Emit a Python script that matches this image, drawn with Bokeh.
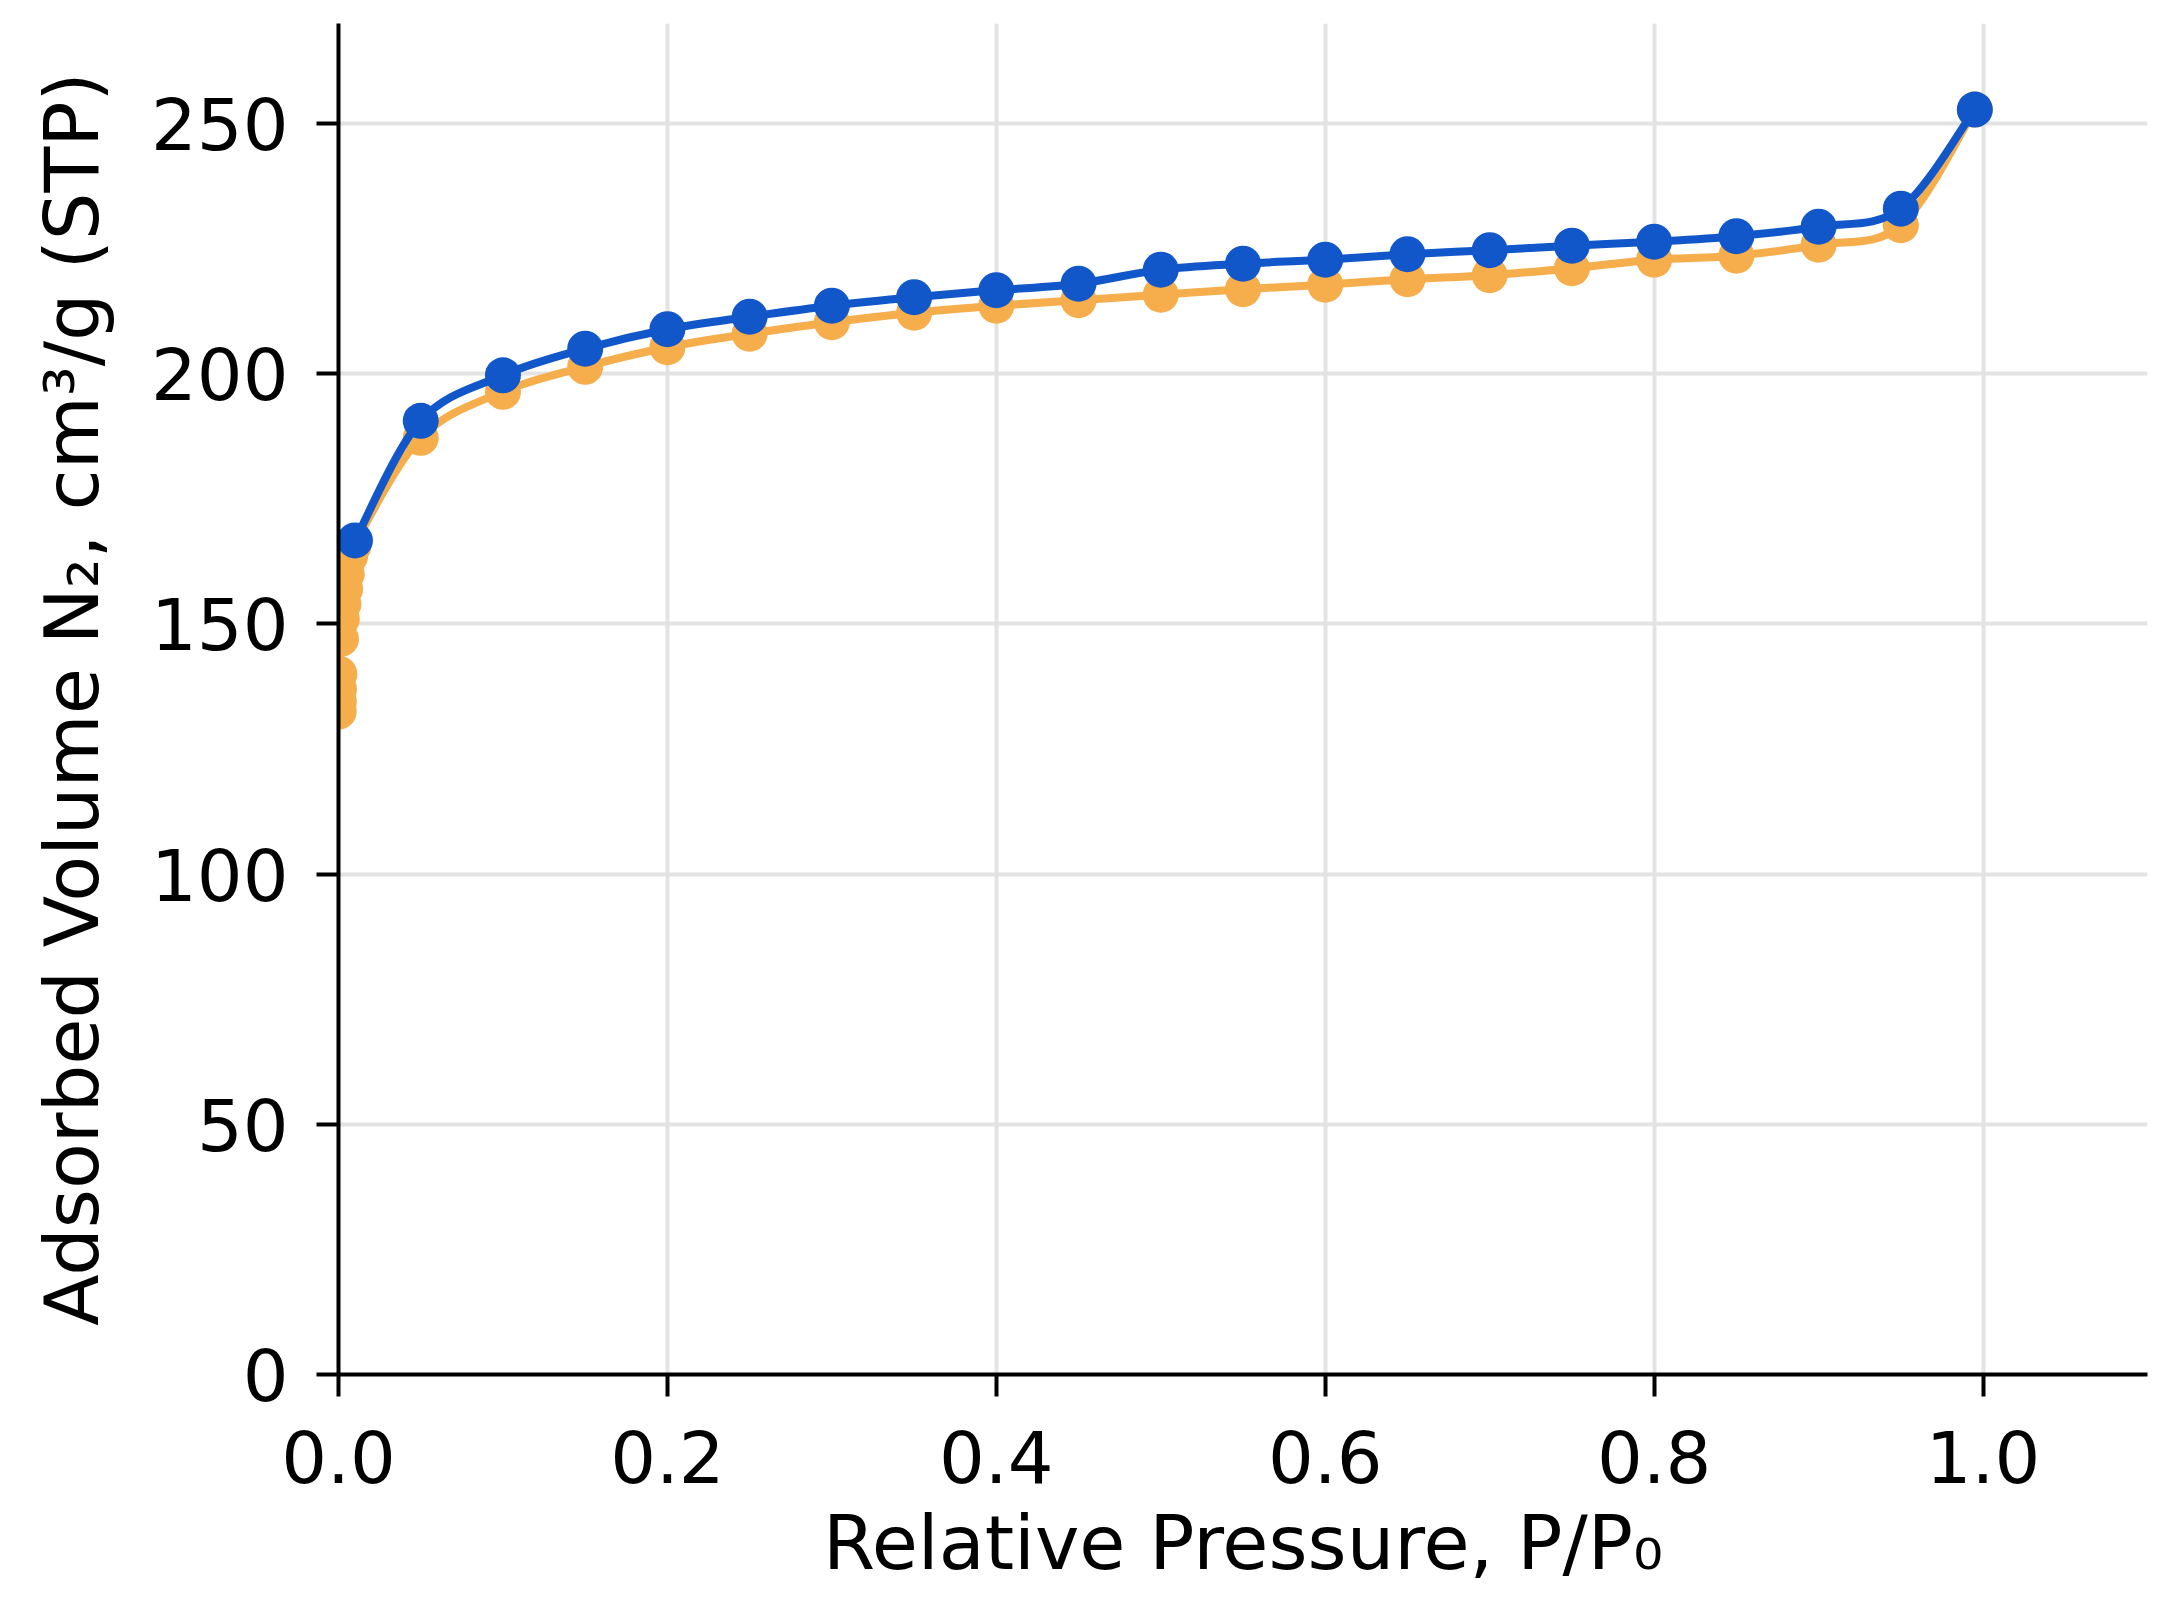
from bokeh.plotting import figure
from bokeh.models import Range1d, FixedTicker
from bokeh.embed import file_html
from bokeh.resources import INLINE

# Adsorption (orange) branch
ads_p = [0.0001, 0.0002, 0.0003, 0.0005, 0.0015, 0.002, 0.003, 0.004, 0.005, 0.007, 0.009,
         0.05, 0.10, 0.15, 0.20, 0.25, 0.30, 0.35, 0.40, 0.45, 0.50,
         0.55, 0.60, 0.65, 0.70, 0.75, 0.80, 0.85, 0.90, 0.95, 0.995]
ads_v = [132.5, 134.5, 137.0, 140.0, 147.0, 151.0, 154.0, 157.0, 160.0, 163.5, 165.5,
         187.2, 196.4, 201.4, 205.3, 208.0, 210.3, 212.2, 213.6, 214.7, 215.8,
         216.9, 217.8, 218.9, 219.7, 221.1, 222.8, 223.6, 225.8, 229.7, 252.8]

# Desorption (blue) branch
des_p = [0.01, 0.05, 0.10, 0.15, 0.20, 0.25, 0.30, 0.35, 0.40, 0.45, 0.50,
         0.55, 0.60, 0.65, 0.70, 0.75, 0.80, 0.85, 0.90, 0.95, 0.995]
des_v = [166.7, 190.6, 199.7, 205.0, 208.9, 211.4, 213.6, 215.3, 216.7, 218.0, 220.8,
         222.0, 222.8, 223.9, 224.7, 225.6, 226.4, 227.5, 229.4, 233.0, 252.8]

x_ticks = [0.0, 0.2, 0.4, 0.6, 0.8, 1.0]
x_tick_labels = ["0.0", "0.2", "0.4", "0.6", "0.8", "1.0"]
y_ticks = [0, 50, 100, 150, 200, 250]

ORANGE = "#F6AD4B"
BLUE = "#1157C9"
FONT = "DejaVu Sans"


def smooth_segments(xs, ys):
    """Catmull-Rom curve through the data points, as cubic Bezier segments."""
    n = len(xs)
    seg = dict(x0=[], y0=[], x1=[], y1=[], cx0=[], cy0=[], cx1=[], cy1=[])
    for i in range(n - 1):
        i0, i3 = max(i - 1, 0), min(i + 2, n - 1)
        seg["x0"].append(xs[i]); seg["y0"].append(ys[i])
        seg["x1"].append(xs[i + 1]); seg["y1"].append(ys[i + 1])
        seg["cx0"].append(xs[i] + (xs[i + 1] - xs[i0]) / 6)
        seg["cy0"].append(ys[i] + (ys[i + 1] - ys[i0]) / 6)
        seg["cx1"].append(xs[i + 1] - (xs[i3] - xs[i]) / 6)
        seg["cy1"].append(ys[i + 1] - (ys[i3] - ys[i]) / 6)
    return seg


p = figure(width=2164, height=1589, output_backend="svg", toolbar_location=None,
           x_range=Range1d(0, 1.10), y_range=Range1d(0, 270),
           min_border_left=338, min_border_right=17, min_border_top=23,
           min_border_bottom=200)
p.outline_line_color = None
p.background_fill_color = "white"
p.border_fill_color = "white"

oa = smooth_segments(ads_p, ads_v)
p.bezier(x0=oa["x0"], y0=oa["y0"], x1=oa["x1"], y1=oa["y1"],
         cx0=oa["cx0"], cy0=oa["cy0"], cx1=oa["cx1"], cy1=oa["cy1"],
         line_color=ORANGE, line_width=8)
p.scatter(ads_p, ads_v, size=36, fill_color=ORANGE, line_color=None)

bd = smooth_segments(des_p, des_v)
p.bezier(x0=bd["x0"], y0=bd["y0"], x1=bd["x1"], y1=bd["y1"],
         cx0=bd["cx0"], cy0=bd["cy0"], cx1=bd["cx1"], cy1=bd["cy1"],
         line_color=BLUE, line_width=8)
p.scatter(des_p, des_v, size=36, fill_color=BLUE, line_color=None)

p.xaxis.ticker = FixedTicker(ticks=x_ticks)
p.xaxis.major_label_overrides = {t: l for t, l in zip(x_ticks, x_tick_labels)}
p.yaxis.ticker = FixedTicker(ticks=y_ticks)

for ax in (p.xaxis, p.yaxis):
    ax.axis_line_width = 4
    ax.axis_line_color = "black"
    ax.major_tick_line_width = 4
    ax.major_tick_line_color = "black"
    ax.major_tick_out = 22
    ax.major_tick_in = 0
    ax.minor_tick_line_color = None
    ax.major_label_text_font = FONT
    ax.major_label_text_font_size = "72px"
    ax.major_label_text_color = "black"
    ax.axis_label_text_font = FONT
    ax.axis_label_text_font_size = "75px"
    ax.axis_label_text_font_style = "normal"
    ax.axis_label_text_color = "black"

p.xaxis.axis_label = "Relative Pressure, P/P\u2080"
p.yaxis.axis_label = "Adsorbed Volume N\u2082, cm\u00b3/g (STP)"
p.xaxis.major_label_standoff = 33
p.yaxis.major_label_standoff = 28
p.xaxis.axis_label_standoff = 13
p.yaxis.axis_label_standoff = 32

p.xgrid.grid_line_color = "#e3e3e3"
p.ygrid.grid_line_color = "#e3e3e3"
p.xgrid.grid_line_width = 4
p.ygrid.grid_line_width = 4

open("out.html", "w").write(file_html(p, INLINE))
